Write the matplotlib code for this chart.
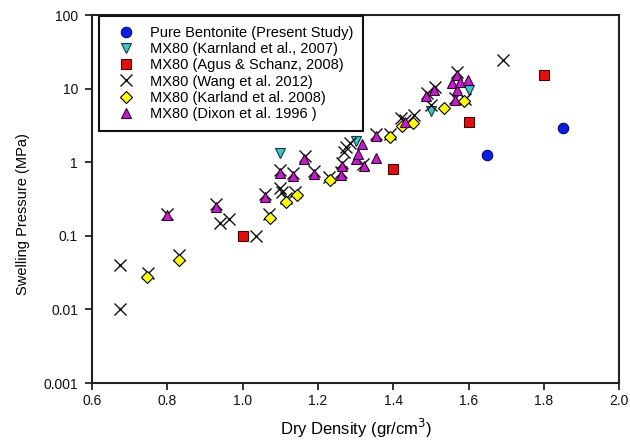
import matplotlib.pyplot as plt

plt.rcParams['font.family'] = ['Liberation Sans', 'DejaVu Sans']

# Pure Bentonite (Present Study)
pure_x = [1.65, 1.85]
pure_y = [1.27, 2.95]

# MX80 (Karnland et al., 2007)
karnland_x = [1.10, 1.30, 1.50, 1.60]
karnland_y = [1.35, 1.95, 5.0, 9.7]

# MX80 (Agus & Schanz, 2008)
agus_x = [1.00, 1.40, 1.60, 1.80]
agus_y = [0.10, 0.80, 3.5, 15.2]

# MX80 (Wang et al. 2012)
wang_x = [0.675, 0.675, 0.75, 0.80, 0.83, 0.93, 0.94, 0.965, 1.035, 1.06,
          1.07, 1.10, 1.10, 1.105, 1.115, 1.135, 1.14, 1.165, 1.19, 1.23,
          1.26, 1.265, 1.27, 1.275, 1.285, 1.32, 1.355, 1.39, 1.42, 1.43,
          1.455, 1.49, 1.50, 1.51, 1.565, 1.57, 1.59, 1.69]
wang_y = [0.010, 0.040, 0.031, 0.20, 0.055, 0.27, 0.15, 0.17, 0.10, 0.37,
          0.20, 0.78, 0.45, 0.39, 0.33, 0.71, 0.40, 1.2, 0.76, 0.63,
          0.74, 0.98, 1.38, 1.6, 1.8, 0.95, 2.45, 2.45, 4.0, 3.8,
          4.4, 8.7, 6.0, 10.5, 7.5, 16.6, 7.3, 24.4]

# MX80 (Karland et al. 2008)
karland_x = [0.747, 0.832, 1.073, 1.116, 1.143, 1.231, 1.392, 1.423, 1.451,
             1.535, 1.589]
karland_y = [0.028, 0.047, 0.175, 0.29, 0.355, 0.565, 2.2, 3.1, 3.4,
             5.46, 6.74]

# MX80 (Dixon et al. 1996)
dixon_x = [0.80, 0.929, 1.06, 1.099, 1.135, 1.163, 1.19, 1.26, 1.265, 1.30,
           1.305, 1.321, 1.318, 1.355, 1.355, 1.43, 1.487, 1.509, 1.564,
           1.556, 1.569, 1.569, 1.578, 1.597]
dixon_y = [0.193, 0.245, 0.335, 0.72, 0.64, 1.10, 0.70, 0.68, 0.90, 1.09,
           1.31, 0.88, 1.75, 1.14, 2.25, 3.5, 7.9, 9.6, 6.9,
           12.0, 15.5, 9.7, 12.3, 13.1]

fig = plt.figure(figsize=(6.3, 4.48), dpi=100)
ax = fig.add_axes([0.146, 0.145, 0.837, 0.8215])

ax.plot(pure_x, pure_y, 'o', color='#0a1ee6', mec='#0a0a60', mew=0.8, ms=7.5,
        label='Pure Bentonite (Present Study)')
ax.plot(karnland_x, karnland_y, 'v', color='#3cc8c8', mec='#103838', mew=0.8,
        ms=7, label='MX80 (Karnland et al., 2007)')
ax.plot(agus_x, agus_y, 's', color='#e01010', mec='#400000', mew=0.8, ms=6.5,
        label='MX80 (Agus & Schanz, 2008)')
ax.plot(wang_x, wang_y, 'x', color='#101010', mew=1.0, ms=8,
        label='MX80 (Wang et al. 2012)')
ax.plot(karland_x, karland_y, 'D', color='#ffff10', mec='black', mew=0.8,
        ms=6.5, label='MX80 (Karland et al. 2008)')
ax.plot(dixon_x, dixon_y, '^', color='#c020c8', mec='#300030', mew=0.8,
        ms=7.5, label='MX80 (Dixon et al. 1996 )')

ax.set_yscale('log')
ax.set_xlim(0.6, 2.0)
ax.set_ylim(0.001, 100)
ax.set_xticks([0.6, 0.8, 1.0, 1.2, 1.4, 1.6, 1.8, 2.0])
ax.set_xticklabels(['0.6', '0.8', '1.0', '1.2', '1.4', '1.6', '1.8', '2.0'])
ax.set_yticks([0.001, 0.01, 0.1, 1, 10, 100])
ax.set_yticklabels(['0.001', '0.01', '0.1', '1', '10', '100'])
ax.minorticks_off()
ax.tick_params(direction='out', length=5, width=1.2, labelsize=10,
               colors='#111111')
ax.tick_params(axis='x', pad=3)
ax.tick_params(axis='y', pad=5)

for s in ax.spines.values():
    s.set_linewidth(1.5)
    s.set_color('#222222')

ax.set_xlabel('Dry Density (gr/cm$^3$)', fontsize=12, labelpad=6)
ax.set_ylabel('Swelling Pressure (MPa)', fontsize=10.5)
ax.yaxis.set_label_coords(-0.118, 0.46)

leg = ax.legend(loc='upper left', bbox_to_anchor=(0.013, 0.998),
                fontsize=10.5, frameon=True, fancybox=False, framealpha=1,
                edgecolor='#111111', borderpad=0.7, handlelength=2.3,
                handletextpad=0.5, labelspacing=0.15, borderaxespad=0)
leg.get_frame().set_linewidth(1.5)

fig.savefig('out.png', dpi=100)
